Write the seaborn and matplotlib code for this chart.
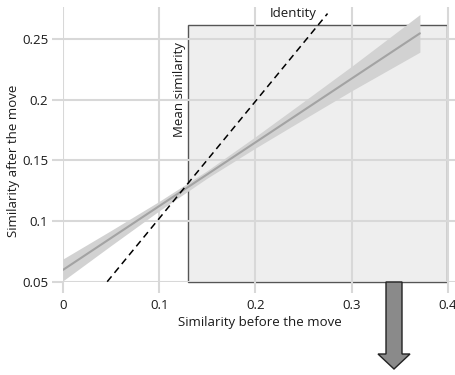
import matplotlib
matplotlib.use("Agg")
import matplotlib.pyplot as plt
import seaborn as sns
import numpy as np
from matplotlib.patches import Rectangle, FancyArrow

# ---- data ----
fit_x = [0.0, 0.05, 0.10, 0.15, 0.20, 0.25, 0.30, 0.371]
fit_y = [0.0597, 0.0860, 0.1123, 0.1385, 0.1648, 0.1911, 0.2174, 0.2547]
fit_lo = [0.0507, 0.0798, 0.1084, 0.1354, 0.1601, 0.1838, 0.2073, 0.2392]
fit_hi = [0.0687, 0.0922, 0.1162, 0.1416, 0.1695, 0.1984, 0.2275, 0.2702]
identity_x = [0.046, 0.275]
identity_y = [0.050, 0.271]
mean_similarity = 0.1296
box_right = 0.399
box_top = 0.2616
x_ticks = [0, 0.1, 0.2, 0.3, 0.4]
x_tick_labels = ["0", "0.1", "0.2", "0.3", "0.4"]
y_ticks = [0.05, 0.1, 0.15, 0.2, 0.25]
y_tick_labels = ["0.05", "0.1", "0.15", "0.2", "0.25"]

sns.set_style("white")
plt.rcParams['font.family'] = ['Open Sans', 'DejaVu Sans']
TXT = "#1a1a1a"
GRID = "#d8d8d8"

fig = plt.figure(figsize=(4.56, 3.75), dpi=100)
ax = fig.add_axes([0.138, 0.2488, 0.862, 0.9813 - 0.2488])
ax.set_xlim(0, 0.4085)
ax.set_ylim(0.05, 0.2764)
for s in ax.spines.values():
    s.set_visible(False)

ax.set_axisbelow(True)
ax.grid(True, color=GRID, linewidth=1.5)
ax.set_xticks(x_ticks)
ax.set_xticklabels(x_tick_labels)
ax.set_yticks(y_ticks)
ax.set_yticklabels(y_tick_labels)
ax.tick_params(axis="both", bottom=True, left=True, length=8, width=1.5,
               color=GRID, labelsize=9.5, labelcolor=TXT)
ax.tick_params(axis="x", pad=4.5)
ax.tick_params(axis="y", pad=2.5)

# mean-similarity box
ax.add_patch(Rectangle((mean_similarity, 0.05), box_right - mean_similarity,
                       box_top - 0.05, facecolor="#eeeeee", edgecolor="#555555",
                       linewidth=1.0, zorder=0.4, clip_on=False))

# regression band + line
ax.fill_between(fit_x, fit_lo, fit_hi, color="#d2d2d2", linewidth=0, zorder=2)
sns.lineplot(x=fit_x, y=fit_y, ax=ax, color="#a3a3a3", linewidth=1.5, zorder=3)

# identity line
ax.plot(identity_x, identity_y, color="black", linestyle=(0, (4.5, 3)),
        linewidth=1.1, zorder=4, clip_on=False)

ax.text(0.264, 0.2712, "Identity", ha="right", va="center", fontsize=9.5,
        color=TXT, zorder=5)
ax.text(mean_similarity - 0.002, 0.2475, "Mean similarity", rotation=90,
        ha="right", va="top", fontsize=9.5, color=TXT, zorder=5)

ax.set_xlabel("Similarity before the move", fontsize=9.5, color=TXT, labelpad=2.5)
ax.set_ylabel("Similarity after the move", fontsize=9.5, color=TXT)
ax.yaxis.set_label_coords(-0.108, (0.15 - 0.05) / (0.2764 - 0.05))

# arrow below the plot (figure pixel coordinates)
fig.add_artist(FancyArrow(394 / 456, 1 - 282 / 375, 0, -(369 - 282) / 375,
                          width=16 / 456, head_width=32 / 456,
                          head_length=15 / 375, length_includes_head=True,
                          facecolor="#8a8a8a", edgecolor="#222222",
                          linewidth=1.0, transform=fig.transFigure))

fig.savefig("out.png", dpi=100)
